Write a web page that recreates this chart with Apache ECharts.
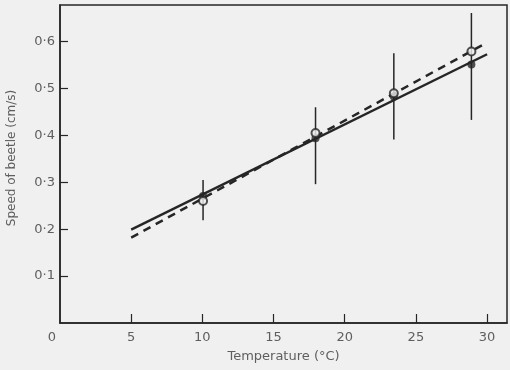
<!DOCTYPE html>
<html><head><meta charset="utf-8">
<script src="https://cdn.jsdelivr.net/npm/echarts@6/dist/echarts.min.js"></script>
<style>html,body{margin:0;padding:0;background:#f0f0f0}#c{width:510px;height:370px}</style>
</head><body><div id="c"></div>
<script>
// Data
const temps = [10.05, 17.95, 23.45, 28.9];
const openVals = [0.260, 0.405, 0.490, 0.579];
const filledVals = [0.271, 0.394, 0.483, 0.551];
const errLow = [0.219, 0.296, 0.391, 0.433];
const errHigh = [0.305, 0.460, 0.575, 0.661];
const solidFit = [[5, 0.199], [30, 0.573]];
const dashedFit = [[5, 0.182], [30, 0.598]];
const xTicks = [0, 5, 10, 15, 20, 25, 30];
const yTicks = [0.1, 0.2, 0.3, 0.4, 0.5, 0.6];

const ink = '#262626';
const labelColor = '#5e5e5e';
const font = 'DejaVu Sans';

const errData = temps.map((t, i) => [t, errLow[i], errHigh[i]]);
const openData = temps.map((t, i) => [t, openVals[i]]);
const filledData = temps.map((t, i) => [t, filledVals[i]]);

const chart = echarts.init(document.getElementById('c'), null, {renderer: 'canvas'});
chart.setOption({
  backgroundColor: '#f0f0f0',
  animation: false,
  grid: {left: 60, right: 3, top: 5, bottom: 47, containLabel: false, outerBoundsMode: 'none',
    show: true, borderColor: ink, borderWidth: 1.5, backgroundColor: 'transparent'},
  xAxis: {
    type: 'value', min: 0, max: 31.4, interval: 5,
    name: 'Temperature (°C)', nameLocation: 'middle', nameGap: 27,
    nameTextStyle: {color: labelColor, fontFamily: font, fontSize: 13},
    axisLine: {show: true, lineStyle: {color: ink, width: 1.5}},
    axisTick: {show: true, inside: true, length: 9, lineStyle: {color: ink, width: 1.2},
      customValues: xTicks.filter(v => v > 0)},
    axisLabel: {color: labelColor, fontFamily: font, fontSize: 13, margin: 8,
      customValues: xTicks,
      formatter: v => (v === 0 ? '{z|0}' : String(v)),
      rich: {z: {color: labelColor, fontFamily: font, fontSize: 13, padding: [0, 16, 0, 0]}}},
    splitLine: {show: false}
  },
  yAxis: {
    type: 'value', min: 0, max: 0.678, interval: 0.1,
    name: 'Speed of beetle (cm/s)', nameLocation: 'middle', nameGap: 42,
    nameTextStyle: {color: labelColor, fontFamily: font, fontSize: 12, padding: [0, 0, 0, 12]},
    axisLine: {show: true, lineStyle: {color: ink, width: 1.5}},
    axisTick: {show: true, inside: true, length: 8, lineStyle: {color: ink, width: 1.2}, customValues: yTicks},
    axisLabel: {color: labelColor, fontFamily: font, fontSize: 13, margin: 5, customValues: yTicks,
      formatter: v => v.toFixed(1).replace('.', '·')},
    splitLine: {show: false}
  },
  series: [
    {
      type: 'custom', data: errData, z: 2,
      renderItem: (params, api) => {
        const a = api.coord([api.value(0), api.value(1)]);
        const b = api.coord([api.value(0), api.value(2)]);
        return {type: 'line', shape: {x1: a[0], y1: a[1], x2: b[0], y2: b[1]},
          style: {stroke: ink, lineWidth: 1.5}};
      }
    },
    {type: 'line', data: solidFit, symbol: 'none', lineStyle: {color: ink, width: 2.5}, z: 3},
    {type: 'line', data: dashedFit, symbol: 'none', lineStyle: {color: ink, width: 2.5, type: [8, 6]}, z: 3},
    {type: 'scatter', data: filledData, symbol: 'circle', symbolSize: 8, itemStyle: {color: ink}, z: 4},
    {type: 'scatter', data: openData, symbol: 'circle', symbolSize: 8,
      itemStyle: {color: '#f0f0f0', borderColor: ink, borderWidth: 2}, z: 5}
  ]
});
</script></body></html>
